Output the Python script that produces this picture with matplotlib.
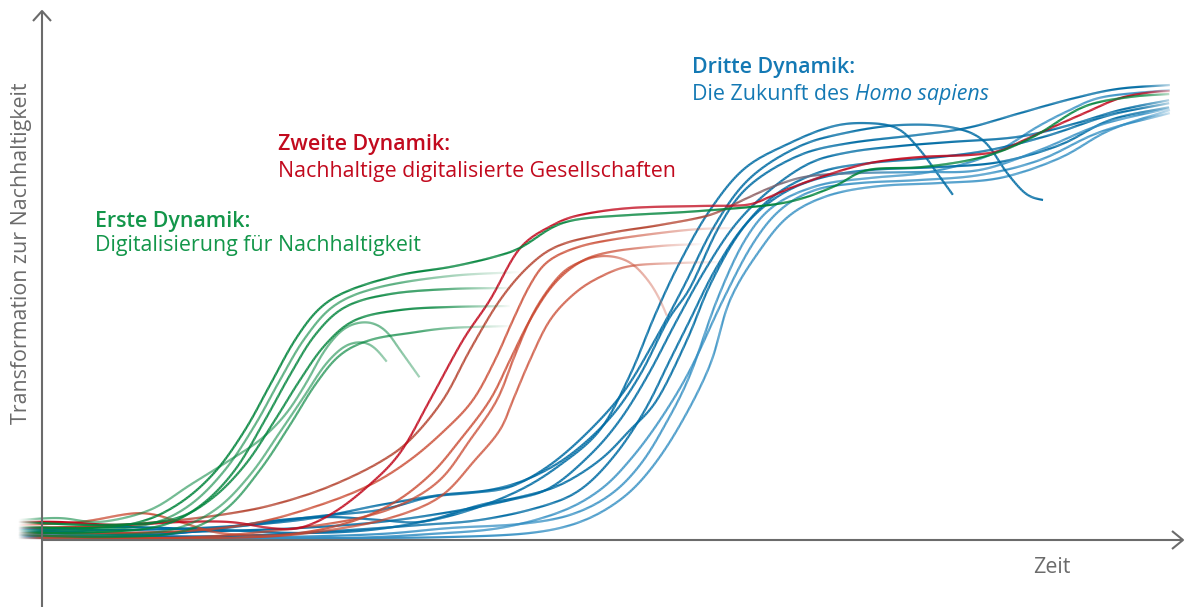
import numpy as np
import matplotlib
matplotlib.use("Agg")
import matplotlib.pyplot as plt
from matplotlib.collections import LineCollection
from matplotlib.colors import to_rgb

# ---------------- data (time, transformation level) ----------------
# green: Erste Dynamik
g1_t = [-24, 48, 98, 138, 173, 203, 228, 253, 278, 308, 358, 408, 448, 478, 511, 538, 588, 658, 741, 791, 825, 881, 941, 991, 1041, 1088, 1128]
g1_v = [13, 12, 18, 37, 68, 110, 155, 200, 232, 250, 265, 273, 282, 292, 313, 321, 325, 329, 337, 353, 370, 373, 383, 403, 433, 443, 446]
g2_t = [-24, 48, 108, 148, 183, 213, 238, 263, 293, 338, 408, 478]
g2_v = [10, 10, 16, 35, 70, 115, 160, 202, 235, 253, 264, 268]
g3_t = [-24, 58, 118, 158, 193, 223, 248, 273, 303, 348, 408, 468]
g3_v = [7, 8, 14, 34, 70, 120, 165, 205, 233, 246, 251, 252]
g4_t = [-24, 58, 128, 168, 203, 233, 258, 283, 313, 358, 408, 468]
g4_v = [18, 15, 20, 40, 75, 120, 160, 195, 220, 230, 233, 234]
g5_t = [-24, 68, 138, 183, 218, 248, 273, 298, 328, 368, 408, 468]
g5_v = [5, 3, 8, 30, 70, 115, 155, 185, 200, 207, 212, 214]
ga_t = [-24, 18, 58, 108, 148, 188, 218, 243, 263, 283, 303, 325, 343, 358, 378]
ga_v = [20, 22, 18, 30, 55, 80, 100, 125, 155, 190, 212, 218, 210, 190, 162]
gb_t = [-24, 58, 128, 173, 208, 238, 263, 283, 303, 321, 333, 345]
gb_v = [9, 5, 10, 30, 65, 108, 145, 175, 194, 198, 192, 178]

# red: Zweite Dynamik
r1_t = [-24, 18, 78, 138, 188, 228, 258, 291, 325, 358, 388, 421, 448, 478, 511, 538, 588, 658, 705, 725, 751, 785, 828, 878, 928, 958, 978, 1011, 1045, 1078, 1111, 1128]
r1_v = [18, 18, 15, 18, 18, 12, 12, 27, 53, 87, 140, 200, 240, 292, 315, 325, 332, 334, 335, 342, 353, 365, 377, 383, 385, 389, 398, 413, 428, 442, 448, 449]
r2_t = [-24, 58, 138, 208, 258, 298, 338, 368, 401, 428, 458, 488, 518, 568, 618, 668, 701, 735, 768, 818, 878, 938, 998, 1058, 1128]
r2_v = [12, 14, 20, 30, 43, 58, 78, 100, 140, 190, 240, 275, 295, 307, 315, 325, 340, 355, 364, 367, 368, 370, 390, 415, 432]
r3_t = [-24, 78, 158, 218, 278, 328, 368, 403, 431, 453, 471, 488, 505, 533, 568, 618, 658, 698]
r3_v = [7, 7, 10, 18, 35, 55, 80, 110, 140, 180, 220, 255, 278, 292, 300, 307, 311, 312]
r4_t = [-24, 38, 98, 138, 178, 238, 298, 348, 388, 418, 448, 468, 488, 511, 538, 568, 618, 661]
r4_v = [15, 18, 27, 18, 7, 5, 15, 35, 65, 100, 140, 180, 220, 255, 278, 288, 294, 296]
r5_t = [-24, 78, 158, 238, 308, 358, 398, 428, 455, 473, 493, 518, 538, 558, 578, 593, 608, 618, 625]
r5_v = [5, 2, 3, 10, 20, 35, 60, 100, 140, 185, 230, 265, 278, 284, 282, 274, 257, 240, 224]
r6_t = [-24, 108, 218, 288, 348, 398, 433, 458, 471, 488, 508, 533, 558, 588, 638, 678]
r6_v = [2, 2, 3, 10, 22, 43, 80, 110, 140, 180, 220, 247, 263, 274, 277, 278]

# blue: Dritte Dynamik
b1_t = [-24, 38, 108, 178, 238, 288, 338, 378, 428, 478, 518, 558, 588, 613, 638, 668, 703, 748, 788, 821, 855, 878, 895, 911]
b1_v = [10, 8, 5, 12, 20, 23, 20, 18, 30, 50, 75, 110, 165, 225, 278, 330, 372, 397, 413, 417, 412, 390, 367, 345]
b2_t = [-24, 58, 138, 208, 278, 338, 388, 428, 468, 508, 548, 583, 613, 641, 673, 708, 758, 808, 858, 908, 941, 965, 985, 1001]
b2_v = [5, 3, 7, 15, 24, 30, 43, 47, 53, 75, 110, 150, 200, 252, 315, 362, 394, 408, 415, 413, 400, 367, 345, 340]
b3_t = [-24, 58, 158, 258, 338, 398, 448, 488, 528, 568, 598, 626, 648, 678, 708, 758, 808, 875, 925, 975, 1025, 1075, 1128]
b3_v = [12, 10, 12, 20, 35, 45, 50, 62, 85, 122, 165, 220, 252, 315, 355, 385, 397, 405, 412, 426, 440, 451, 455]
b4_t = [-24, 78, 178, 258, 338, 408, 468, 508, 548, 578, 606, 635, 663, 693, 728, 768, 808, 858, 908, 975, 1028, 1078, 1128]
b4_v = [8, 7, 9, 12, 18, 28, 40, 52, 85, 120, 165, 220, 270, 315, 350, 377, 388, 394, 398, 403, 415, 430, 440]
b5_t = [-24, 108, 218, 308, 378, 438, 498, 538, 573, 603, 628, 648, 673, 703, 738, 778, 828, 898, 958, 1018, 1068, 1128]
b5_v = [4, 3, 5, 10, 15, 20, 33, 50, 85, 130, 180, 220, 270, 315, 345, 362, 370, 373, 378, 395, 420, 433]
b6_t = [-24, 108, 238, 338, 408, 478, 528, 568, 598, 623, 648, 675, 703, 733, 778, 828, 888, 948, 995, 1028, 1061, 1128]
b6_v = [2, 2, 3, 6, 12, 16, 25, 45, 75, 115, 165, 240, 300, 335, 355, 362, 368, 385, 413, 430, 443, 450]
b7_t = [-24, 118, 218, 308, 388, 458, 518, 558, 588, 618, 648, 681, 710, 738, 773, 818, 878, 938, 998, 1058, 1128]
b7_v = [6, 4, 2, 2, 6, 12, 28, 50, 80, 120, 170, 240, 295, 330, 350, 357, 360, 365, 380, 408, 427]
b8_t = [-24, 158, 308, 408, 488, 538, 578, 608, 638, 668, 688, 718, 748, 788, 838, 898, 958, 1018, 1068, 1128]
b8_v = [3, 2, 2, 3, 7, 18, 40, 70, 115, 175, 240, 290, 325, 345, 354, 357, 362, 382, 410, 430]
b9_t = [-24, 78, 178, 258, 328, 388, 438, 478, 518, 558, 588, 615, 645, 668, 698, 733, 778, 828, 888, 948, 1008, 1068, 1128]
b9_v = [11, 13, 10, 7, 10, 20, 35, 43, 55, 80, 110, 140, 200, 255, 308, 345, 368, 377, 382, 390, 405, 425, 437]

labels_green = ["Erste Dynamik:", "Digitalisierung für Nachhaltigkeit"]
labels_red = ["Zweite Dynamik:", "Nachhaltige digitalisierte Gesellschaften"]
labels_blue = ["Dritte Dynamik:", "Die Zukunft des ", "Homo sapiens"]
xlabel = "Zeit"
ylabel = "Transformation zur Nachhaltigkeit"

# ---------------- style ----------------
GREEN = "#00843b"
GREEN_T = "#13964a"
RED = "#c20a1e"
ORANGE = "#c9452c"
BLUE = "#006ca4"
LBLUE = "#3590c4"
BLUE_T = "#1479b4"
GRAY = "#6b6b6b"
FONT = "Open Sans"


def catmull(t, v, n=24):
    P = np.column_stack([t, v]).astype(float)
    P = np.vstack([2 * P[0] - P[1], P, 2 * P[-1] - P[-2]])
    out = []
    s = np.linspace(0, 1, n, endpoint=False)[:, None]
    for i in range(1, len(P) - 2):
        p0, p1, p2, p3 = P[i - 1], P[i], P[i + 1], P[i + 2]
        pts = 0.5 * ((2 * p1) + (-p0 + p2) * s + (2 * p0 - 5 * p1 + 4 * p2 - p3) * s ** 2
                     + (-p0 + 3 * p1 - 3 * p2 + p3) * s ** 3)
        out.append(pts)
    out.append(P[-2][None, :])
    pts = np.vstack(out)
    # resample by arc length and soften the knees
    d = np.hypot(*np.diff(pts, axis=0).T)
    s_ = np.concatenate([[0], np.cumsum(d)])
    grid = np.arange(0, s_[-1], 1.0)
    x = np.interp(grid, s_, pts[:, 0])
    y = np.interp(grid, s_, pts[:, 1])
    sig = 5.0
    k = np.arange(-int(3 * sig), int(3 * sig) + 1)
    ker = np.exp(-0.5 * (k / sig) ** 2)
    ker /= ker.sum()
    m = len(k) // 2

    def sm(a):
        pad_l = 2 * a[0] - a[1:m + 1][::-1]
        pad_r = 2 * a[-1] - a[-m - 1:-1][::-1]
        return np.convolve(np.concatenate([pad_l, a, pad_r]), ker, mode="valid")

    return np.column_stack([sm(x), sm(y)])


def draw(ax, t, v, color, alpha=1.0, fade=None, fade_min=0.0, color2=None, grad=None, lw=1.6, z=2):
    pts = catmull(t, v)
    segs = np.stack([pts[:-1], pts[1:]], axis=1)
    mid = 0.5 * (pts[:-1, 0] + pts[1:, 0])
    a = np.full(len(mid), alpha)
    a *= np.clip((mid - t[0]) / (0 - t[0]), 0, 1) ** 1.2
    if fade is not None:
        f = np.clip((fade[1] - mid) / (fade[1] - fade[0]), 0, 1)
        a *= fade_min + (1 - fade_min) * f
    c1 = np.array(to_rgb(color))
    if color2 is not None:
        c2 = np.array(to_rgb(color2))
        w = np.clip((mid - grad[0]) / (grad[1] - grad[0]), 0, 1)[:, None]
        rgb = c1 * (1 - w) + c2 * w
    else:
        rgb = np.tile(c1, (len(mid), 1))
    rgba = np.column_stack([rgb, a])
    ax.add_collection(LineCollection(segs, colors=rgba, linewidths=lw, capstyle="butt", zorder=z))


fig = plt.figure(figsize=(11.85, 6.07), dpi=100)
ax = fig.add_axes([0, 0, 1, 1])
ax.set_xlim(-42, 1143)
ax.set_ylim(-67, 540)
ax.axis("off")

END = (1100, 1138)

# blue curves
draw(ax, b8_t, b8_v, LBLUE, 0.95, fade=END)
draw(ax, b7_t, b7_v, LBLUE, 0.95, fade=END)
draw(ax, b6_t, b6_v, LBLUE, 0.95, fade=END)
draw(ax, b5_t, b5_v, BLUE, 1.0, fade=END)
draw(ax, b4_t, b4_v, BLUE, 1.0, fade=END)
draw(ax, b9_t, b9_v, BLUE, 1.0, fade=END)
draw(ax, b3_t, b3_v, BLUE, 1.0, fade=END)
draw(ax, b2_t, b2_v, BLUE, 1.0)
draw(ax, b1_t, b1_v, BLUE, 1.0)

# red curves
draw(ax, r6_t, r6_v, ORANGE, 0.85, fade=(560, 680))
draw(ax, r5_t, r5_v, ORANGE, 0.85, fade=(540, 630), fade_min=0.3)
draw(ax, r4_t, r4_v, ORANGE, 0.9, fade=(560, 662))
draw(ax, r3_t, r3_v, ORANGE, 0.9, fade=(560, 700))
draw(ax, r2_t, r2_v, "#b33e29", 0.95, color2=LBLUE, grad=(640, 860), fade=END)
draw(ax, r1_t, r1_v, RED, 1.0, fade=END)

# green curves
draw(ax, gb_t, gb_v, GREEN, 0.6, fade=(320, 350), fade_min=0.6)
draw(ax, ga_t, ga_v, GREEN, 0.6, fade=(340, 380), fade_min=0.6)
draw(ax, g5_t, g5_v, GREEN, 0.75, fade=(380, 470))
draw(ax, g4_t, g4_v, GREEN, 0.95, fade=(390, 470))
draw(ax, g3_t, g3_v, GREEN, 0.95, fade=(390, 470))
draw(ax, g2_t, g2_v, GREEN, 0.65, fade=(360, 480))
draw(ax, g1_t, g1_v, GREEN, 1.0, fade=END)

# axes with open arrow heads
x0, x1 = ax.get_xlim()
y0, y1 = ax.get_ylim()
ytop = y1 - 11
xend = x1 - 2
akw = dict(color=GRAY, lw=1.5, solid_capstyle="butt", zorder=5, clip_on=False)
ax.plot([0, 0], [y0, ytop], **akw)
ax.plot([-9, 0, 9], [ytop - 10, ytop, ytop - 10], **akw)
ax.plot([0, xend], [0, 0], **akw)
ax.plot([xend - 11, xend, xend - 11], [9, 0, -9], **akw)

# labels
fs = 15.4
ax.text(991, -33, xlabel, color=GRAY, fontsize=fs, family=FONT, va="baseline", ha="left")
ax.text(-20, 287, ylabel, color=GRAY, fontsize=fs, family=FONT, rotation=90, va="center", ha="center")

ax.text(53, 313, labels_green[0], color=GREEN_T, fontsize=fs, family=FONT, weight="semibold", va="baseline")
ax.text(53, 289, labels_green[1], color=GREEN_T, fontsize=fs, family=FONT, va="baseline")
ax.text(236, 390, labels_red[0], color=RED, fontsize=fs, family=FONT, weight="semibold", va="baseline")
ax.text(236, 363, labels_red[1], color=RED, fontsize=fs, family=FONT, va="baseline")
ax.text(650, 467, labels_blue[0], color=BLUE_T, fontsize=fs, family=FONT, weight="semibold", va="baseline")
tb = ax.text(650, 440, labels_blue[1], color=BLUE_T, fontsize=fs, family=FONT, va="baseline")
ax.annotate(labels_blue[2], xy=(1, 0), xycoords=tb, xytext=(0, 0), textcoords="offset points",
            color=BLUE_T, fontsize=fs, family=FONT, style="italic", va="bottom", ha="left")

fig.savefig("out.png", dpi=100)
